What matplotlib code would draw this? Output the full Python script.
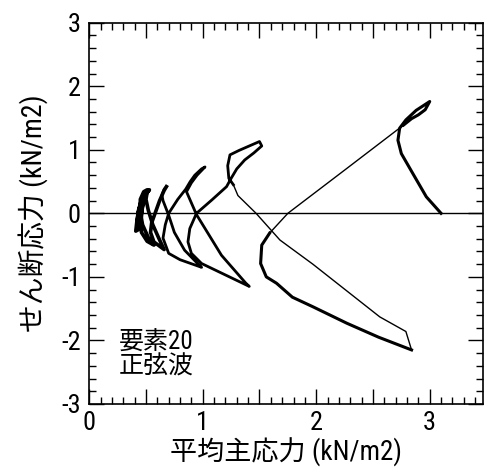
import matplotlib
matplotlib.use("Agg")
import matplotlib.pyplot as plt
from matplotlib.ticker import MultipleLocator, FuncFormatter

# stress path (mean principal stress p, shear stress q)
# first loading up to the compression peak and back
load_p = [3.10, 3.04, 2.97, 2.85, 2.75, 2.72, 2.735, 2.79, 2.88, 3.00, 2.96, 2.90, 2.84, 2.77]
load_q = [0.00, 0.12, 0.26, 0.63, 0.94, 1.15, 1.34, 1.47, 1.62, 1.76, 1.63, 1.55, 1.49, 1.39]

# fast unloading from the first compression peak
unload1_p = [2.77, 2.25, 1.75, 1.59]
unload1_q = [1.39, 0.68, 0.00, -0.31]

# first extension branch
ext1_p = [1.59, 1.52, 1.51, 1.56, 1.65, 1.79, 1.97, 2.27, 2.55, 2.84]
ext1_q = [-0.31, -0.50, -0.79, -1.00, -1.10, -1.32, -1.47, -1.73, -1.95, -2.15]

# fast reversal from the first extension peak
rev1_p = [2.84, 2.79, 2.56, 1.97, 1.68, 1.47, 1.31, 1.27]
rev1_q = [-2.15, -1.86, -1.63, -0.80, -0.42, 0.00, 0.28, 0.45]

# second and third cycles
cyc_p = [1.27, 1.23, 1.22, 1.24, 1.32, 1.50, 1.52, 1.45, 1.37, 1.30, 1.25, 1.21,
         1.08, 0.945, 0.886, 0.87, 0.90, 0.99, 1.165, 1.41,
         1.38, 1.165, 0.945, 0.857, 0.90, 0.95, 1.02, 0.99, 0.93, 0.89,
         0.85, 0.78, 0.70, 0.67, 0.65, 0.70, 0.80, 0.99,
         0.96, 0.84, 0.75, 0.70, 0.65, 0.64, 0.66, 0.68]
cyc_q = [0.45, 0.55, 0.75, 0.92, 0.99, 1.13, 1.06, 0.95, 0.84, 0.70, 0.55, 0.42,
         0.21, 0.00, -0.24, -0.45, -0.63, -0.79, -0.94, -1.15,
         -1.10, -0.66, -0.02, 0.34, 0.48, 0.60, 0.73, 0.70, 0.60, 0.50,
         0.38, 0.22, 0.00, -0.18, -0.39, -0.63, -0.73, -0.85,
         -0.80, -0.58, -0.30, -0.03, 0.20, 0.29, 0.38, 0.42]

# last small cycles near p = 0.4-0.7
tail_p = [0.68, 0.66, 0.62, 0.58, 0.55, 0.54, 0.57, 0.66,
          0.62, 0.56, 0.52, 0.50, 0.51, 0.53,
          0.50, 0.47, 0.45, 0.46, 0.51, 0.57,
          0.52, 0.47, 0.45, 0.45, 0.48, 0.51, 0.48, 0.44, 0.42, 0.41,
          0.44, 0.46, 0.47, 0.49, 0.46, 0.43, 0.42, 0.43, 0.45, 0.48]
tail_q = [0.42, 0.36, 0.20, 0.00, -0.15, -0.30, -0.45, -0.57,
          -0.42, -0.18, 0.05, 0.22, 0.33, 0.37,
          0.30, 0.10, -0.10, -0.30, -0.44, -0.50,
          -0.38, -0.18, 0.02, 0.22, 0.34, 0.37, 0.28, 0.08, -0.12, -0.28,
          -0.25, -0.05, 0.15, 0.32, 0.22, 0.02, -0.18, -0.10, 0.10, 0.30]

x_ticks = [0, 1, 2, 3]
note = "要素20\n正弦波"
xlabel = "平均主応力 (kN/m2)"
ylabel = "せん断応力 (kN/m2)"

plt.rcParams["axes.unicode_minus"] = False
plt.rcParams["font.family"] = ["Roboto Condensed", "Noto Sans CJK JP", "DejaVu Sans"]

fig = plt.figure(figsize=(4.85, 4.73), dpi=100)
ax = fig.add_axes([0.184, 0.146, 0.812, 0.806])

ax.axhline(0, color="black", lw=1.0)
ax.plot(load_p, load_q, color="black", lw=2.2, solid_joinstyle="round")
ax.plot(unload1_p, unload1_q, color="black", lw=1.0)
ax.plot(ext1_p, ext1_q, color="black", lw=2.2, solid_joinstyle="round")
ax.plot(rev1_p, rev1_q, color="black", lw=1.0)
ax.plot(cyc_p, cyc_q, color="black", lw=2.0, solid_joinstyle="round")
ax.plot(tail_p, tail_q, color="black", lw=2.6, solid_joinstyle="round")

ax.set_xlim(0, 3.47)
ax.set_ylim(-3, 3)
ax.xaxis.set_major_locator(MultipleLocator(0.5))
ax.xaxis.set_minor_locator(MultipleLocator(0.1))
ax.xaxis.set_major_formatter(FuncFormatter(
    lambda v, pos: f"{int(round(v))}" if round(v) in x_ticks and abs(v - round(v)) < 1e-6 else ""))
ax.yaxis.set_major_locator(MultipleLocator(1))
ax.yaxis.set_minor_locator(MultipleLocator(0.2))
ax.yaxis.set_major_formatter(FuncFormatter(lambda v, pos: f"{int(round(v))}"))
ax.tick_params(which="both", direction="in", top=True, right=True, width=1.0)
ax.tick_params(which="major", length=11, labelsize=19)
ax.tick_params(which="minor", length=5)
ax.tick_params(axis="x", pad=5)
ax.tick_params(axis="y", pad=6)
for s in ax.spines.values():
    s.set_linewidth(1.2)

ax.set_xlabel(xlabel, fontsize=19.5, labelpad=2)
ax.set_ylabel(ylabel, fontsize=20, labelpad=9)
ax.text(0.075, 0.13, note, transform=ax.transAxes, fontsize=18,
        ha="left", va="center", linespacing=1.0)

fig.savefig("out.png", dpi=100)
